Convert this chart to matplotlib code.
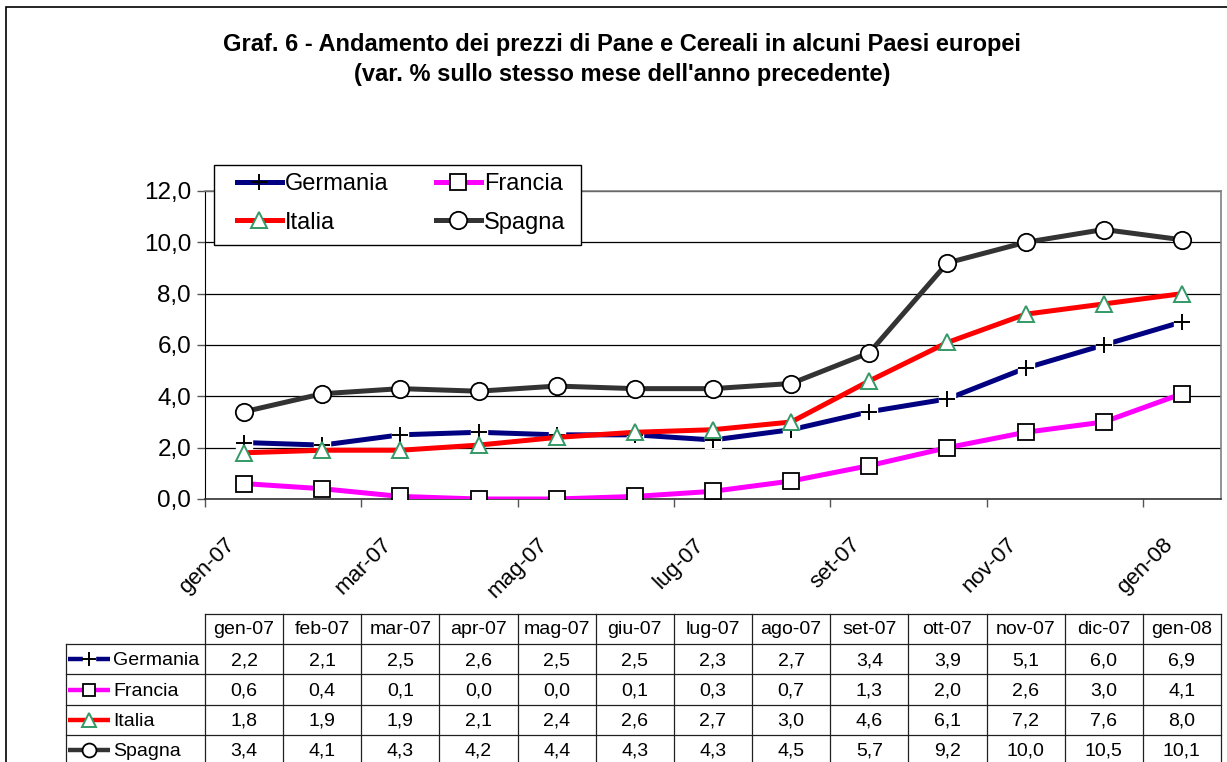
import numpy as np
import matplotlib
matplotlib.use("Agg")
import matplotlib.pyplot as plt
from matplotlib.patches import Rectangle
from matplotlib.ticker import FuncFormatter
from matplotlib.transforms import ScaledTranslation

plt.rcParams['font.family'] = ['Liberation Sans', 'DejaVu Sans']

mesi = ["gen-07", "feb-07", "mar-07", "apr-07", "mag-07", "giu-07", "lug-07",
        "ago-07", "set-07", "ott-07", "nov-07", "dic-07", "gen-08"]
germania = [2.2, 2.1, 2.5, 2.6, 2.5, 2.5, 2.3, 2.7, 3.4, 3.9, 5.1, 6.0, 6.9]
francia = [0.6, 0.4, 0.1, 0.0, 0.0, 0.1, 0.3, 0.7, 1.3, 2.0, 2.6, 3.0, 4.1]
italia = [1.8, 1.9, 1.9, 2.1, 2.4, 2.6, 2.7, 3.0, 4.6, 6.1, 7.2, 7.6, 8.0]
spagna = [3.4, 4.1, 4.3, 4.2, 4.4, 4.3, 4.3, 4.5, 5.7, 9.2, 10.0, 10.5, 10.1]

serie = [
    ("Germania", germania, dict(color="#000080", marker="+", ms=12, mec="black", mfc="none", mew=1.4)),
    ("Francia", francia, dict(color="#FF00FF", marker="s", ms=11, mec="black", mfc="white", mew=1.3)),
    ("Italia", italia, dict(color="#FF0000", marker="^", ms=12, mec="#339966", mfc="white", mew=1.4)),
    ("Spagna", spagna, dict(color="#333333", marker="o", ms=12.5, mec="black", mfc="white", mew=1.3)),
]

W, H = 1227, 762
fig = plt.figure(figsize=(W / 100, H / 100), dpi=100)

# bordo esterno
fig.patches.append(Rectangle((6 / W, -0.01), 1.1, 1 - 7 / H + 0.01, transform=fig.transFigure,
                             fill=False, edgecolor="black", lw=1.2, clip_on=False))

fig.text(622 / W, 1 - 45 / H, "Graf. 6 - Andamento dei prezzi di Pane e Cereali in alcuni Paesi europei",
         ha="center", va="center", fontsize=17, fontweight="bold")
fig.text(622 / W, 1 - 75 / H, "(var. % sullo stesso mese dell'anno precedente)",
         ha="center", va="center", fontsize=17, fontweight="bold")

ax = fig.add_axes([205 / W, 1 - 499 / H, (1221 - 205) / W, (499 - 191) / H])
x = np.arange(len(mesi))

handles = {}
for nome, valori, st in serie:
    if st["marker"] == "+":
        # sfondo bianco dietro il marker "+"
        ax.plot(x, valori, color=st["color"], lw=3.6, solid_capstyle="butt", zorder=3)
        ax.plot(x, valori, ls="none", marker="s", ms=11, mfc="white", mec="white", zorder=3)
        ax.plot(x, valori, ls="none", marker="+", ms=st["ms"], mec=st["mec"], mew=st["mew"], zorder=3)
    else:
        ax.plot(x, valori, color=st["color"], lw=3.6, zorder=3,
                marker=st["marker"], ms=st["ms"], mec=st["mec"], mfc=st["mfc"], mew=st["mew"])
    h, = ax.plot([], [], color=st["color"], lw=3.6, marker=st["marker"], ms=st["ms"],
                 mec=st["mec"], mfc=st["mfc"], mew=st["mew"])
    handles[nome] = h

ax.set_xlim(-0.5, len(mesi) - 0.5)
ax.set_ylim(0, 12)
ax.set_yticks(np.arange(0, 13, 2))
ax.yaxis.set_major_formatter(FuncFormatter(lambda v, p: f"{v:.1f}".replace(".", ",")))
ax.tick_params(axis="y", labelsize=17.5, length=6, width=1, color="#555555", pad=4)
ax.grid(axis="y", color="black", lw=0.9)
ax.set_axisbelow(True)

ax.set_xticks(x[::2])
ax.set_xticklabels(mesi[::2], rotation=45, ha="right", va="center", rotation_mode="anchor", fontsize=16)
ax.set_xticks(np.arange(-0.5, len(mesi) - 1, 2), minor=True)
ax.tick_params(axis="x", which="major", length=0, pad=22)
ax.tick_params(axis="x", which="minor", length=6, width=1, color="#555555")
sposta = ScaledTranslation(-0.12, -0.12, fig.dpi_scale_trans)
for lab in ax.get_xticklabels():
    lab.set_transform(lab.get_transform() + sposta)

for s in ["top", "right"]:
    ax.spines[s].set_color("#808080")
    ax.spines[s].set_linewidth(1.2)
ax.spines["left"].set_color("black")
ax.spines["bottom"].set_color("#333333")
ax.spines["bottom"].set_linewidth(1.2)

# legenda: cornice disegnata a parte
fig.patches.append(Rectangle((214 / W, 1 - 245 / H), (581 - 214) / W, 80 / H, transform=fig.transFigure,
                             facecolor="white", edgecolor="black", lw=1.0, zorder=5))
ordine = ["Germania", "Italia", "Francia", "Spagna"]
leg = fig.legend([handles[n] for n in ordine], ordine, ncol=2, loc="upper left",
                 bbox_to_anchor=(237 / W, 1 - 173 / H), bbox_transform=fig.transFigure,
                 fontsize=17, frameon=False, handlelength=1.9, handletextpad=0.13,
                 columnspacing=2.0, labelspacing=0.7, borderpad=0, borderaxespad=0)
leg.set_zorder(6)

# tabella dati
tab = fig.add_axes([205 / W, 1 - 765 / H, (1221 - 205) / W, (765 - 614) / H])
tab.set_xlim(-0.5, len(mesi) - 0.5)
tab.set_ylim(5, 0)
tab.axis("off")
cw = 78.15
xl = -0.5 - (205 - 66) / cw
lc = "#202020"
for k in range(len(mesi) + 1):
    tab.plot([k - 0.5, k - 0.5], [0, 5], color=lc, lw=0.9, clip_on=False)
tab.plot([-0.5, len(mesi) - 0.5], [0, 0], color=lc, lw=0.9, clip_on=False)
for r in range(1, 6):
    tab.plot([xl, len(mesi) - 0.5], [r, r], color=lc, lw=0.9, clip_on=False)
tab.plot([xl, xl], [1, 5], color=lc, lw=0.9, clip_on=False)

for i, m in enumerate(mesi):
    tab.text(i, 0.5, m, ha="center", va="center", fontsize=14)

k0 = -0.5 - (205 - 68) / cw
k1 = -0.5 - (205 - 110) / cw
for r, (nome, valori, st) in enumerate(serie, start=1):
    tab.plot([k0, k1], [r + 0.5, r + 0.5], color=st["color"], lw=3.2, clip_on=False,
             solid_capstyle="butt")
    if st["marker"] == "+":
        tab.plot([(k0 + k1) / 2], [r + 0.5], marker="s", ms=9, mfc="white", mec="white", clip_on=False)
    tab.plot([(k0 + k1) / 2], [r + 0.5], marker=st["marker"], ms=st["ms"] * 0.8, mec=st["mec"],
             mfc=st["mfc"], mew=st["mew"], ls="none", clip_on=False)
    tab.text(k1 + 0.04, r + 0.55, nome, ha="left", va="center", fontsize=14)
    for i, v in enumerate(valori):
        tab.text(i, r + 0.55, f"{v:.1f}".replace(".", ","), ha="center", va="center", fontsize=14)

fig.savefig("out.png", dpi=100)
